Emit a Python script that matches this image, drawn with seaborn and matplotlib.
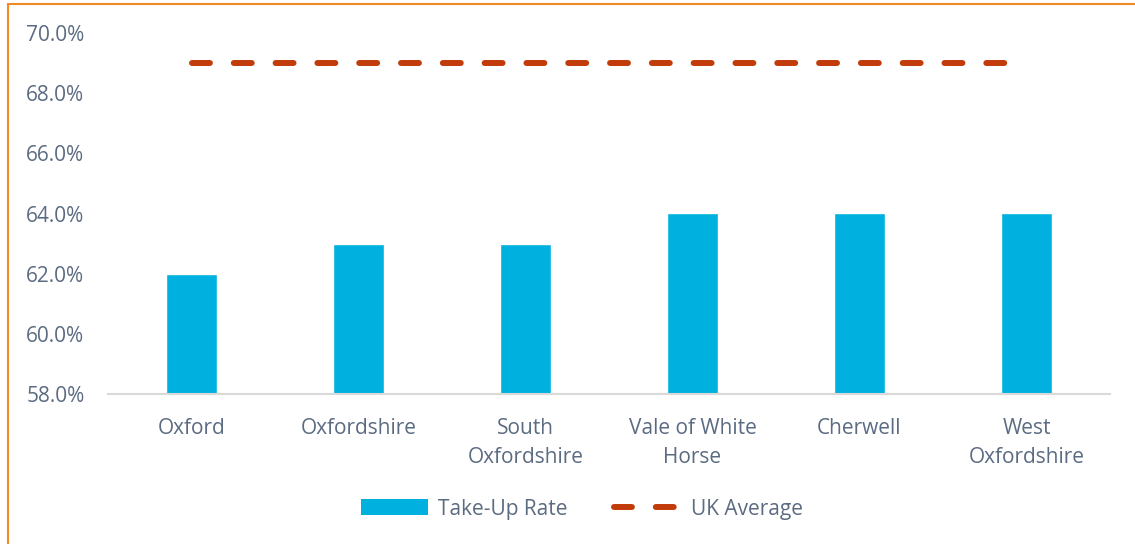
import numpy as np
import pandas as pd
import matplotlib
matplotlib.use("Agg")
import matplotlib.pyplot as plt
from matplotlib.lines import Line2D
from matplotlib.patches import Patch
from matplotlib.ticker import FuncFormatter
import seaborn as sns

# data
areas = ["Oxford", "Oxfordshire", "South\nOxfordshire", "Vale of White\nHorse",
         "Cherwell", "West\nOxfordshire"]
take_up = [62.0, 63.0, 63.0, 64.0, 64.0, 64.0]
uk_average = [69.0, 69.0, 69.0, 69.0, 69.0, 69.0]

bar_col = "#00B0DE"
line_col = "#C23B0A"
text_col = "#5B6B82"

sns.set_style("white")
plt.rcParams["font.family"] = ["Open Sans", "DejaVu Sans"]

df = pd.DataFrame({"area": areas, "rate": take_up, "uk": uk_average})

fig = plt.figure(figsize=(11.35, 5.44), dpi=100)
ax = fig.add_axes([108 / 1135, 1 - 394 / 544, 1002 / 1135, 361 / 544])

sns.barplot(data=df, x="area", y="rate", color=bar_col, width=0.31,
            saturation=1, ax=ax)
ax.plot(range(len(areas)), df["uk"], color=line_col, linewidth=4.3,
        dashes=(3, 4), dash_capstyle="round", solid_capstyle="round")

ax.set_ylim(58, 70)
ax.set_xlim(-0.5, len(areas) - 0.5)
ax.set_yticks(np.arange(58, 71, 2))
ax.yaxis.set_major_formatter(FuncFormatter(lambda v, p: f"{v:.1f}%"))
ax.set_xlabel("")
ax.set_ylabel("")
ax.tick_params(axis="both", colors=text_col, labelsize=15, length=0)
ax.tick_params(axis="y", pad=17)
ax.tick_params(axis="x", pad=17)
for lab in ax.get_xticklabels():
    lab.set_linespacing(1.55)

for s in ["top", "right", "left"]:
    ax.spines[s].set_visible(False)
ax.spines["bottom"].set_color("#D9D9D9")
ax.spines["bottom"].set_linewidth(1.5)

handles = [Patch(facecolor=bar_col, edgecolor="none", label="Take-Up Rate"),
           Line2D([0], [0], color=line_col, linewidth=4.3, dashes=(3, 4),
                  dash_capstyle="round", label="UK Average")]
fig.legend(handles=handles, loc="center", bbox_to_anchor=(582 / 1135, 1 - 509 / 544),
           ncol=2, frameon=False, fontsize=15, labelcolor=text_col,
           handlelength=3.2, handleheight=0.8, columnspacing=2.2, handletextpad=0.5)

# orange frame edges (top and left)
fig.add_artist(Line2D([8 / 1135, 8 / 1135], [0, 1 - 4 / 544], color="#F08A24",
                      linewidth=1.5, transform=fig.transFigure))
fig.add_artist(Line2D([8 / 1135, 1], [1 - 4 / 544, 1 - 4 / 544], color="#F08A24",
                      linewidth=1.5, transform=fig.transFigure))

fig.savefig("out.png", dpi=100)
